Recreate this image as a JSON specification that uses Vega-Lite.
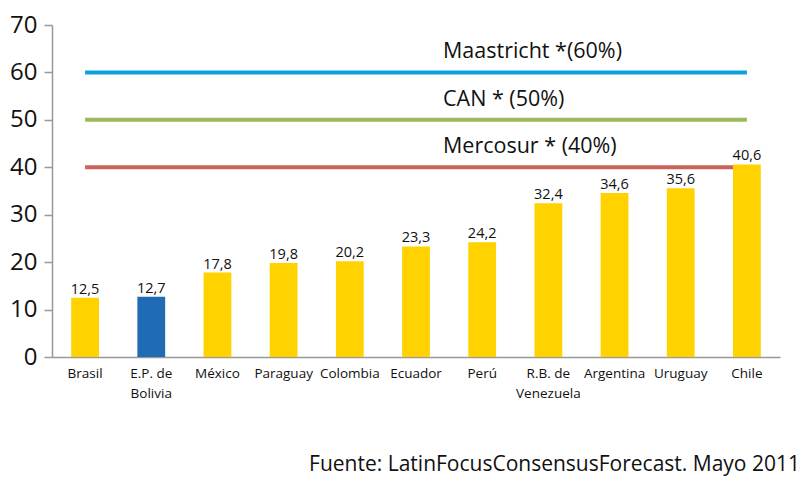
{
  "$schema": "https://vega.github.io/schema/vega-lite/v6.json",
  "autosize": "none",
  "width": 728,
  "height": 332,
  "padding": {"left": 52, "top": 25, "right": 30, "bottom": 140},
  "background": "white",
  "config": {
    "font": "Open Sans",
    "view": {"stroke": null},
    "axis": {"grid": false, "domainColor": "#999999", "tickColor": "#999999", "domainWidth": 1.5, "tickWidth": 1.5, "labelColor": "#111111", "labelFont": "Open Sans"}
  },
  "title": {
    "text": "Fuente: LatinFocusConsensusForecast. Mayo 2011",
    "orient": "bottom",
    "anchor": "end",
    "font": "Open Sans",
    "fontSize": 21,
    "fontWeight": "normal",
    "color": "#111111",
    "offset": 54,
    "dx": 20
  },
  "datasets": {
    "paises": [
      {"pais": "Brasil", "valor": 12.5},
      {"pais": "E.P. de Bolivia", "valor": 12.7},
      {"pais": "México", "valor": 17.8},
      {"pais": "Paraguay", "valor": 19.8},
      {"pais": "Colombia", "valor": 20.2},
      {"pais": "Ecuador", "valor": 23.3},
      {"pais": "Perú", "valor": 24.2},
      {"pais": "R.B. de Venezuela", "valor": 32.4},
      {"pais": "Argentina", "valor": 34.6},
      {"pais": "Uruguay", "valor": 35.6},
      {"pais": "Chile", "valor": 40.6}
    ],
    "limites": [
      {"nombre": "Maastricht *(60%)", "limite": 60, "desde": "Brasil", "hasta": "Chile"},
      {"nombre": "CAN * (50%)", "limite": 50, "desde": "Brasil", "hasta": "Chile"},
      {"nombre": "Mercosur * (40%)", "limite": 40, "desde": "Brasil", "hasta": "Chile"}
    ]
  },
  "layer": [
    {
      "data": {"name": "limites"},
      "mark": {"type": "rule", "strokeWidth": 4},
      "encoding": {
        "x": {
          "field": "desde", "type": "nominal", "sort": null,
          "scale": {
            "domain": ["Brasil", "E.P. de Bolivia", "México", "Paraguay", "Colombia", "Ecuador", "Perú", "R.B. de Venezuela", "Argentina", "Uruguay", "Chile"],
            "paddingInner": 0.58, "paddingOuter": 0.29
          },
          "axis": {
            "title": null, "ticks": false, "labelAngle": 0, "labelFontSize": 13.5, "labelPadding": 9, "labelLineHeight": 20,
            "labelExpr": "datum.value == 'E.P. de Bolivia' ? ['E.P. de', 'Bolivia'] : datum.value == 'R.B. de Venezuela' ? ['R.B. de', 'Venezuela'] : datum.value"
          }
        },
        "x2": {"field": "hasta"},
        "y": {
          "field": "limite", "type": "quantitative",
          "scale": {"domain": [0, 70]},
          "axis": {"title": null, "values": [0, 10, 20, 30, 40, 50, 60, 70], "labelFontSize": 24, "tickSize": 8, "labelPadding": 7}
        },
        "color": {
          "field": "nombre", "type": "nominal", "legend": null,
          "scale": {"domain": ["Maastricht *(60%)", "CAN * (50%)", "Mercosur * (40%)"], "range": ["#0EA0DC", "#9BBB59", "#CB6358"]}
        }
      }
    },
    {
      "data": {"name": "paises"},
      "mark": {"type": "bar"},
      "encoding": {
        "x": {"field": "pais", "type": "nominal", "sort": null},
        "y": {"field": "valor", "type": "quantitative"},
        "color": {
          "condition": {"test": "datum.pais == 'E.P. de Bolivia'", "value": "#1F6BB4"},
          "value": "#FFD200"
        }
      }
    },
    {
      "data": {"name": "paises"},
      "transform": [{"calculate": "replace(format(datum.valor, '.1f'), '.', ',')", "as": "etiqueta"}],
      "mark": {"type": "text", "baseline": "bottom", "dy": -1, "fontSize": 14.5, "color": "#111111"},
      "encoding": {
        "x": {"field": "pais", "type": "nominal", "sort": null},
        "y": {"field": "valor", "type": "quantitative"},
        "text": {"field": "etiqueta"}
      }
    },
    {
      "data": {"name": "limites"},
      "mark": {"type": "text", "align": "left", "baseline": "middle", "dy": -20, "dx": 27, "fontSize": 21.5, "color": "#111111"},
      "encoding": {
        "x": {"datum": "Ecuador", "type": "nominal"},
        "y": {"field": "limite", "type": "quantitative"},
        "text": {"field": "nombre"}
      }
    }
  ]
}
